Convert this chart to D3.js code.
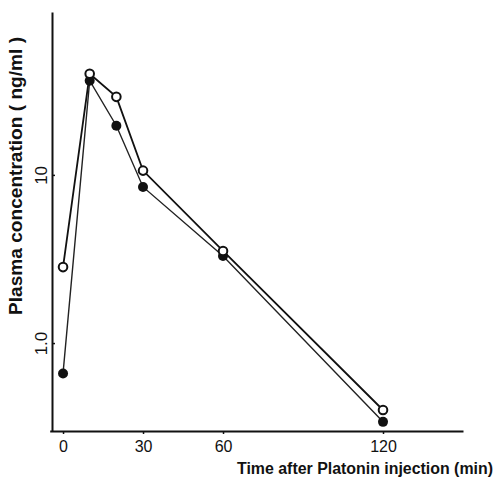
<!DOCTYPE html>
<html>
<head>
<meta charset="utf-8">
<script src="https://cdn.jsdelivr.net/npm/d3@7"></script>
<style>
  html, body { margin: 0; padding: 0; background: #fff; }
  svg { display: block; }
  text { font-family: "Liberation Sans", Arial, sans-serif; fill: #111; }
</style>
</head>
<body>
<svg id="chart" width="502" height="481"></svg>
<script>
// ---- data ----
const times = [0, 10, 20, 30, 60, 120];
const openSeries = [2.83, 39.9, 29.1, 10.6, 3.53, 0.40];
const filledSeries = [0.66, 36.3, 19.6, 8.48, 3.29, 0.34];
const xTickValues = [0, 30, 60, 120];
const xTickLabels = ["0", "30", "60", "120"];
const yTickValues = [1, 10];
const yTickLabels = ["1.0", "10"];
const xTitle = "Time after Platonin injection (min)";
const yTitle = "Plasma concentration ( ng/ml )";

// ---- layout ----
const svg = d3.select("#chart");
const x = d3.scaleLinear().domain([-5, 150]).range([49.7, 463]);
const y = d3.scaleLog().domain([0.3, 93]).range([431, 12]);
const axisX = 52, axisY = 431;

// x axis
const gx = svg.append("g").attr("transform", `translate(0,${axisY})`)
  .call(d3.axisBottom(x).tickValues(xTickValues)
    .tickFormat((d, i) => xTickLabels[i]).tickSize(3).tickSizeOuter(0).tickPadding(7));
gx.select(".domain").attr("stroke", "#111").attr("stroke-width", 2);
gx.selectAll(".tick line").attr("stroke", "#111").attr("stroke-width", 1.5);
gx.selectAll(".tick text").attr("font-size", 16).attr("fill", "#111")
  .attr("font-family", "Liberation Sans, Arial, sans-serif");

// y axis
const gy = svg.append("g").attr("transform", `translate(${axisX},0)`)
  .call(d3.axisLeft(y).tickValues(yTickValues)
    .tickFormat((d, i) => yTickLabels[i]).tickSize(-3).tickSizeOuter(0));
gy.select(".domain").attr("stroke", "#111").attr("stroke-width", 2);
gy.selectAll(".tick line").attr("stroke", "#111").attr("stroke-width", 1.5);
gy.selectAll(".tick text")
  .attr("font-size", 17).attr("fill", "#111")
  .attr("font-family", "Liberation Sans, Arial, sans-serif")
  .attr("x", null).attr("dy", null)
  .attr("text-anchor", "middle")
  .attr("transform", "translate(-5,0) rotate(-90)");

// titles
svg.append("text")
  .attr("x", 237).attr("y", 474)
  .attr("font-size", 16).attr("font-weight", "bold")
  .attr("textLength", 256).attr("lengthAdjust", "spacingAndGlyphs")
  .text(xTitle);

svg.append("text")
  .attr("transform", `translate(22,176) rotate(-90)`)
  .attr("text-anchor", "middle")
  .attr("font-size", 18.5).attr("font-weight", "bold")
  .attr("textLength", 278).attr("lengthAdjust", "spacingAndGlyphs")
  .text(yTitle);

// lines
const line = d3.line().x((d, i) => x(times[i])).y(d => y(d));

svg.append("path").datum(filledSeries)
  .attr("d", line).attr("fill", "none")
  .attr("stroke", "#222").attr("stroke-width", 1.4);

svg.append("path").datum(openSeries)
  .attr("d", line).attr("fill", "none")
  .attr("stroke", "#111").attr("stroke-width", 1.8);

// markers
svg.append("g").selectAll("circle").data(filledSeries).join("circle")
  .attr("cx", (d, i) => x(times[i])).attr("cy", d => y(d))
  .attr("r", 5).attr("fill", "#111");

svg.append("g").selectAll("circle").data(openSeries).join("circle")
  .attr("cx", (d, i) => x(times[i])).attr("cy", d => y(d))
  .attr("r", 4.3).attr("fill", "#fff")
  .attr("stroke", "#111").attr("stroke-width", 2);
</script>
</body>
</html>
